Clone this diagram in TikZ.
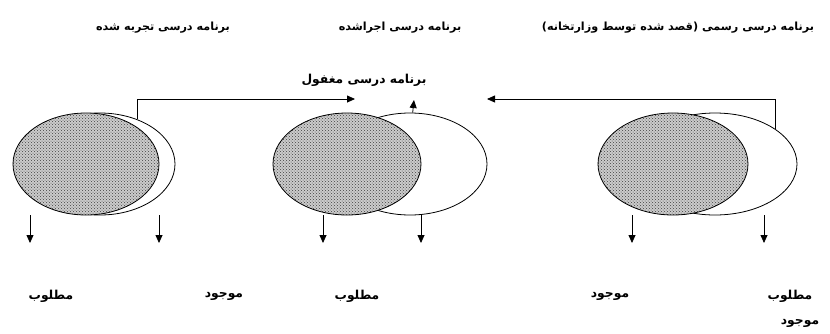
\documentclass[tikz,border=0pt]{standalone}
\usepackage{fontspec}
\usepackage{tikz}
\usetikzlibrary{arrows.meta,shapes.geometric,patterns}
\TeXXeTstate=1
\newfontfamily\farsifont[Script=Arabic,BoldFont={DejaVu Sans Bold}]{DejaVu Sans}
\newcommand{\fa}[1]{\farsifont\bfseries\beginR #1\endR}

\begin{document}
\begin{tikzpicture}[
  x=1pt, y=-1pt,
  font=\fontsize{11.2}{13}\selectfont,
  arrow/.style={-{Triangle[length=8pt,width=7pt]}, line width=0.8pt},
  link/.style={line width=0.8pt},
  outer/.style={draw, ellipse, fill=white, inner sep=0pt, line width=0.8pt},
  inner/.style={draw, ellipse, inner sep=0pt, line width=0.8pt,
    preaction={fill=gray!40}, pattern=crosshatch dots, pattern color=black!75},
  label/.style={inner sep=1pt},
  big/.style={font=\fontsize{12.3}{14}\selectfont}
]
\useasboundingbox (0,0) rectangle (830,333);

% top titles
\node[label] (tajrobe) at (163,28) {\fa{برنامه درسی تجربه شده}};
\node[label] (ejra) at (400,28) {\fa{برنامه درسی اجراشده}};
\node[label] (rasmi) at (678,28) {\fa{برنامه درسی رسمی (قصد شده توسط وزارتخانه)}};
\node[label, big] (maghfool) at (364,80) {\fa{برنامه درسی مغفول}};

% ellipses
\node[outer, minimum width=150pt, minimum height=102pt] (tajrobeOut) at (100,164) {};
\node[inner, minimum width=146pt, minimum height=102pt] (tajrobeIn) at (86,164) {};
\node[outer, minimum width=154pt, minimum height=102pt] (ejraOut) at (410,164) {};
\node[inner, minimum width=148pt, minimum height=102pt] (ejraIn) at (347,164) {};
\node[outer, minimum width=164pt, minimum height=102pt] (rasmiOut) at (715,164) {};
\node[inner, minimum width=150pt, minimum height=102pt] (rasmiIn) at (673,164) {};

% connectors to the hidden curriculum
\coordinate (leftTop) at (137,99);
\coordinate (rightTop) at (775,99);
\coordinate (maghfoolL) at (355,99);
\coordinate (maghfoolR) at (487,99);
\coordinate (maghfoolUp) at (414,100);
\draw[link] (tajrobeOut.50) |- (leftTop);
\draw[arrow] (leftTop) -- (maghfoolL);
\draw[link] (rasmiOut.30) |- (rightTop);
\draw[arrow] (rightTop) -- (maghfoolR);
\draw[arrow] (ejraOut.87) -- (maghfoolUp);

% downward arrows
\foreach \x/\n in {30/a,159/b,323/c,421/d,632/e,764/f}{
  \coordinate (s\n) at (\x,215);
  \coordinate (e\n) at (\x,243);
  \draw[arrow] (s\n) -- (e\n);
}

% bottom labels
\node[label, big] (matlubA) at (51,296) {\fa{مطلوب}};
\node[label, big] (mojudA) at (224,296) {\fa{موجود}};
\node[label, big] (matlubB) at (357,296) {\fa{مطلوب}};
\node[label, big] (mojudB) at (610,296) {\fa{موجود}};
\node[label, big] (matlubC) at (790,296) {\fa{مطلوب}};
\node[label, big] (mojudC) at (800,323) {\fa{موجود}};
\end{tikzpicture}
\end{document}
